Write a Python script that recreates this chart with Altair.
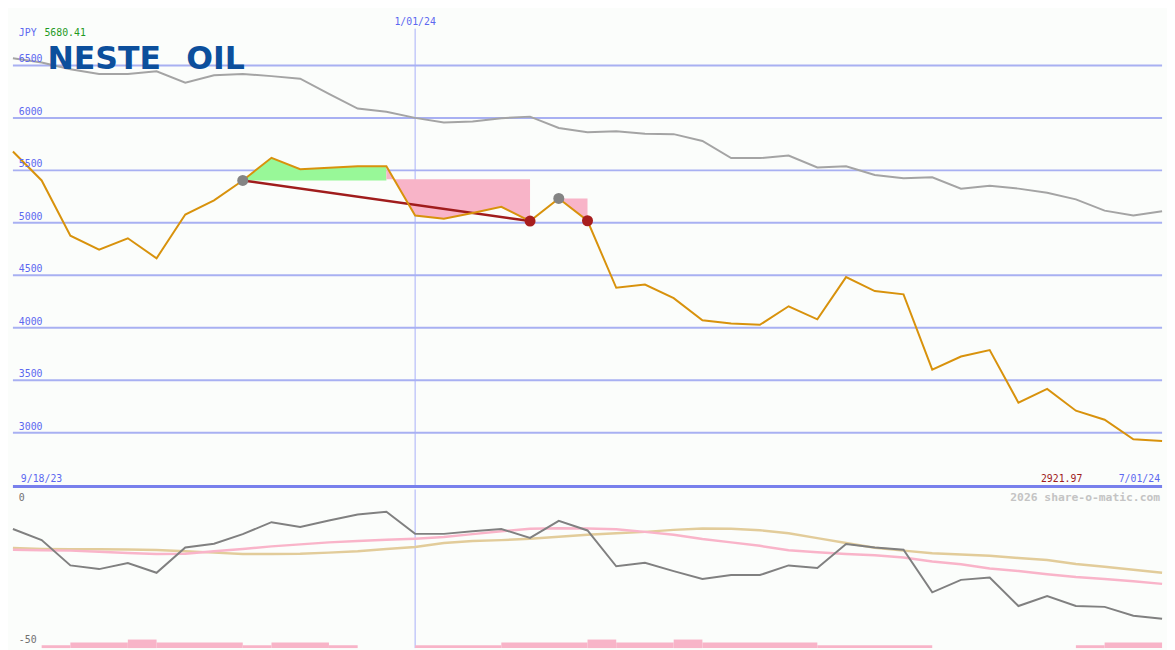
import altair as alt
import pandas as pd

# ---------------- data (weekly, 9/25/23 .. 7/01/24) ----------------
week = list(range(41))
price = [5680, 5404, 4878, 4745, 4853, 4662, 5079, 5215, 5404, 5620,
         5511, 5524, 5539, 5539, 5070, 5039, 5094, 5153, 5017, 5233,
         5020, 4381, 4412, 4282, 4072, 4041, 4028, 4205, 4081, 4483,
         4350, 4319, 3602, 3726, 3787, 3287, 3417, 3210, 3124, 2938, 2922]
avg_line = [6568, 6528, 6463, 6419, 6419, 6444, 6336, 6407, 6419, 6398,
            6373, 6228, 6089, 6058, 6000, 5956, 5965, 5997, 6012, 5904,
            5863, 5873, 5848, 5845, 5780, 5617, 5617, 5641, 5527, 5539,
            5456, 5425, 5434, 5326, 5354, 5326, 5286, 5224, 5116, 5070, 5110]
osc = [-8.8, -12.7, -21.6, -22.9, -20.8, -24.2, -15.3, -14.0, -10.6, -6.4,
       -8.1, -5.8, -3.7, -2.7, -10.5, -10.5, -9.6, -8.8, -11.9, -5.9,
       -9.3, -21.9, -20.7, -23.6, -26.4, -25.0, -25.0, -21.6, -22.5, -14.1,
       -15.3, -16.1, -31.1, -26.7, -25.9, -35.9, -32.4, -35.9, -36.2, -39.3, -40.4]
pink_ma = [-16.1, -16.3, -16.4, -16.8, -17.2, -17.6, -17.5, -16.6, -15.8, -14.9,
           -14.2, -13.5, -13.0, -12.6, -12.2, -11.6, -10.6, -9.6, -8.7, -8.5,
           -8.6, -8.9, -9.8, -10.8, -12.3, -13.5, -14.7, -16.3, -17.0, -17.6,
           -18.0, -18.8, -20.2, -21.2, -22.7, -23.6, -24.7, -25.7, -26.4, -27.2, -28.1]
tan_ma = [-15.5, -15.8, -15.9, -15.9, -16.0, -16.2, -16.6, -17.1, -17.6, -17.6,
          -17.5, -17.1, -16.6, -15.8, -15.1, -13.7, -13.0, -12.7, -12.2, -11.5,
          -10.8, -10.3, -9.8, -9.1, -8.6, -8.7, -9.2, -10.3, -12.0, -13.7,
          -15.4, -16.4, -17.3, -17.8, -18.2, -19.0, -19.7, -21.1, -22.1, -23.1, -24.2]

price_ticks = [3000, 3500, 4000, 4500, 5000, 5500, 6000, 6500]
osc_ticks = [0, -50]

vol_start = [1, 2, 4, 5, 8, 9, 11, 14, 17, 20, 21, 23, 24, 28, 37, 38]
vol_end = [2, 4, 5, 8, 9, 11, 12, 17, 20, 21, 23, 24, 28, 32, 38, 40]
vol_level = [1, 2, 3, 2, 1, 2, 1, 1, 2, 3, 2, 3, 2, 1, 1, 2]

# signal segments: (first week, last week, reference level, fill)
seg_start = [8, 13, 19]
seg_end = [13, 18, 20]
seg_level = [5404, 5415, 5233]
seg_fill = ["#98f898", "#f8b4c8", "#f8b4c8"]

trend_weeks = [8, 18]
marker_weeks = [8, 18, 19, 20]
marker_colors = ["#848484", "#a81e1e", "#848484", "#a81e1e"]

year_start_week = 14
currency = "JPY"
first_value = "5680.41"
last_value = "2921.97"
date_start, date_mid, date_end = "9/18/23", "1/01/24", "7/01/24"

# ---------------- layout ----------------
W, H1, H2 = 1167, 481, 161
PRICE_DOMAIN = [2487, 7000]
LOW_DOMAIN = [-50.7, 5.1]
MONO = "DejaVu Sans Mono"
BLUE = "#5c68f0"

df = pd.DataFrame({"week": week, "price": price, "avg": avg_line,
                   "osc": osc, "pink": pink_ma, "tan": tan_ma})

xs = alt.Scale(domain=[0, 40], nice=False, zero=False)
ys = alt.Scale(domain=PRICE_DOMAIN, nice=False, zero=False)
ls = alt.Scale(domain=LOW_DOMAIN, nice=False, zero=False)


def X(f):
    return alt.X(f, type="quantitative", scale=xs, axis=None)


def Y(f, s):
    return alt.Y(f, type="quantitative", scale=s, axis=None, stack=None)


# areas between price and reference level
rows = []
for k in range(len(seg_start)):
    for w in range(seg_start[k], seg_end[k] + 1):
        rows.append({"week": w, "price": price[w], "level": seg_level[k],
                     "seg": k, "fill": seg_fill[k]})
area_df = pd.DataFrame(rows)

trend_df = pd.DataFrame({"week": trend_weeks, "price": [price[w] for w in trend_weeks]})
mark_df = pd.DataFrame({"week": marker_weeks, "price": [price[w] for w in marker_weeks],
                        "c": marker_colors})
tick_df = pd.DataFrame({"v": price_ticks, "label": [str(t) for t in price_ticks]})
vline_df = pd.DataFrame({"week": [year_start_week], "label": [date_mid]})

grid = alt.Chart(tick_df).mark_rule(color="#a8b0f2", strokeWidth=2).encode(y=Y("v", ys))
sep = alt.Chart(pd.DataFrame({"v": [PRICE_DOMAIN[0]]})).mark_rule(
    color="#7880ec", strokeWidth=3).encode(y=Y("v", ys))
vline = alt.Chart(vline_df).mark_rule(color="#a8b0f8", strokeWidth=1).encode(
    x=X("week"), y=alt.value(16), y2=alt.value(H1))
avg_l = alt.Chart(df).mark_line(color="#a4a4a4", strokeWidth=2).encode(x=X("week"), y=Y("avg", ys))
areas = alt.Chart(area_df).mark_area(opacity=1, interpolate="linear").encode(
    x=X("week"), y=Y("price", ys), y2="level:Q",
    color=alt.Color("fill:N", scale=None), detail="seg:N")
trend = alt.Chart(trend_df).mark_line(color="#a01c1c", strokeWidth=2.5).encode(
    x=X("week"), y=Y("price", ys))
price_l = alt.Chart(df).mark_line(color="#d8920c", strokeWidth=2).encode(
    x=X("week"), y=Y("price", ys))
markers = alt.Chart(mark_df).mark_circle(size=125, opacity=1).encode(
    x=X("week"), y=Y("price", ys), color=alt.Color("c:N", scale=None))
tick_txt = alt.Chart(tick_df).mark_text(
    align="left", baseline="middle", dy=-6, font=MONO, fontSize=10, color=BLUE).encode(
    x=alt.value(6), y=Y("v", ys), text="label:N")
mid_txt = alt.Chart(vline_df).mark_text(
    align="center", baseline="middle", font=MONO, fontSize=10, color=BLUE).encode(
    x=X("week"), y=alt.value(9), text="label:N")


def label(txt, x, y, color, align="left", size=10, weight="normal", font=MONO):
    return alt.Chart(pd.DataFrame({"t": [txt]})).mark_text(
        align=align, baseline="middle", font=font, fontSize=size,
        fontWeight=weight, color=color).encode(
        x=alt.value(x), y=alt.value(y), text="t:N")


hdr1 = label(currency, 6, 20, BLUE)
hdr2 = label(first_value, 32, 20, "#1f9a1f")
logo1 = alt.Chart(pd.DataFrame({"t": ["NESTE"]})).mark_text(
    align="left", baseline="alphabetic", font="DejaVu Sans", fontSize=32,
    fontWeight="bold", color="#0c4f9c").encode(x=alt.value(35), y=alt.value(57), text="t:N")
logo2 = alt.Chart(pd.DataFrame({"t": ["OIL"]})).mark_text(
    align="left", baseline="alphabetic", font="DejaVu Sans", fontSize=32,
    fontWeight="bold", color="#0c4f9c").encode(x=alt.value(176), y=alt.value(57), text="t:N")
b1 = label(date_start, 8, H1 - 8, BLUE)
b2 = label(last_value, 1086, H1 - 8, "#a01c1c", align="right")
b3 = label(date_end, 1165, H1 - 8, BLUE, align="right")

top = alt.layer(grid, vline, avg_l, areas, trend, price_l, markers, sep,
                tick_txt, mid_txt, hdr1, hdr2, logo1, logo2, b1, b2, b3).properties(
    width=W, height=H1)

# ---------------- lower panel ----------------
vol_df = pd.DataFrame({"start": vol_start, "end": vol_end,
                       "top": [LOW_DOMAIN[0] + v for v in vol_level],
                       "bottom": [LOW_DOMAIN[0]] * len(vol_start)})
otick_df = pd.DataFrame({"v": osc_ticks, "label": [str(t) for t in osc_ticks]})

vline2 = alt.Chart(vline_df).mark_rule(color="#a8b0f8", strokeWidth=1).encode(x=X("week"))
vol = alt.Chart(vol_df).mark_rect(color="#f8b4c8").encode(
    x=X("start"), x2="end:Q", y=Y("top", ls), y2="bottom:Q")
tan_l = alt.Chart(df).mark_line(color="#e2cc9a", strokeWidth=2.5).encode(x=X("week"), y=Y("tan", ls))
pink_l = alt.Chart(df).mark_line(color="#f9b4c9", strokeWidth=2.5).encode(x=X("week"), y=Y("pink", ls))
osc_l = alt.Chart(df).mark_line(color="#808080", strokeWidth=2).encode(x=X("week"), y=Y("osc", ls))
otick_txt = alt.Chart(otick_df).mark_text(
    align="left", baseline="middle", dy=-6, font=MONO, fontSize=10, color="#707070").encode(
    x=alt.value(6), y=Y("v", ls), text="label:N")
credit = label("2026 share-o-matic.com", 1165, 9, "#c4c4c4", align="right",
               size=11.5, weight="bold")

bottom = alt.layer(vline2, vol, tan_l, pink_l, osc_l, otick_txt, credit).properties(
    width=W, height=H2)

chart = alt.vconcat(top, bottom, spacing=0).properties(
    padding=0, background="#fbfdfb").configure_view(stroke=None)

chart.save("out.html", embed_options={"renderer": "svg", "actions": False})
